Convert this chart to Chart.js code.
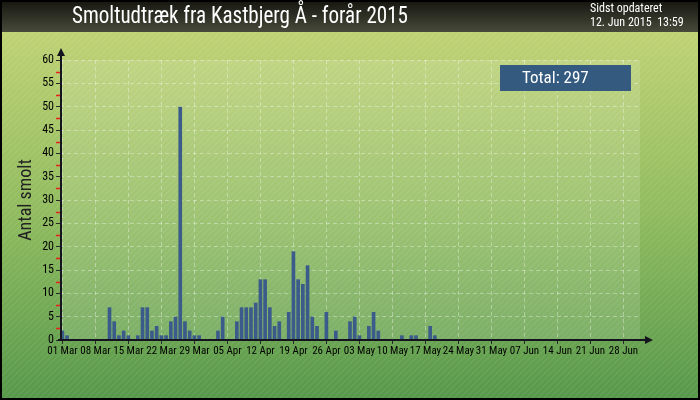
<!DOCTYPE html>
<html>
<head>
<meta charset="utf-8">
<title>Smoltudtræk fra Kastbjerg Å - forår 2015</title>
<script src="https://cdn.jsdelivr.net/npm/chart.js@4/dist/chart.umd.min.js"></script>
<style>
  html, body { margin: 0; padding: 0; background: #000; }
  canvas { display: block; }
</style>
</head>
<body>
<canvas id="smolt" width="700" height="400"></canvas>
<script>
// tekster
const titel = 'Smoltudtræk fra Kastbjerg Å - forår 2015';
const opdateretTekst = 'Sidst opdateret';
const opdateretDato = '12. Jun 2015  13:59';
const aksetitel = 'Antal smolt';
const totalTekst = 'Total: 297';

// en kategori pr. dag, 01 Mar - 01 Jul 2015
const antalDage = 123;
const dage = [];
for (let i = 0; i < antalDage; i++) {
  const d = new Date(2015, 2, 1 + i);
  dage.push(d.getFullYear() + '-' + (d.getMonth() + 1) + '-' + d.getDate());
}

// ugentlige labels paa x-aksen
const ugeLabels = ['01 Mar', '08 Mar', '15 Mar', '22 Mar', '29 Mar', '05 Apr',
  '12 Apr', '19 Apr', '26 Apr', '03 May', '10 May', '17 May', '24 May',
  '31 May', '07 Jun', '14 Jun', '21 Jun', '28 Jun'];

// antal smolt pr. dag (01 Mar - 12 Jun)
const smolt = [
  2, 1, 0, 0, 0, 0, 0, 0, 0, 0,
  7, 4, 1, 2, 1, 0, 1, 7, 7, 2,
  3, 1, 1, 4, 5, 50, 4, 2, 1, 1,
  0, 0, 0, 2, 5, 0, 0, 4, 7, 7,
  7, 8, 13, 13, 7, 3, 4, 0, 6, 19,
  13, 12, 16, 5, 3, 0, 6, 0, 2, 0,
  0, 4, 5, 1, 0, 3, 6, 2, 0, 0,
  0, 0, 1, 0, 1, 1, 0, 0, 3, 1,
  0, 0, 0, 0, 0, 0, 0, 0, 0, 0,
  0, 0, 0, 0, 0, 0, 0, 0, 0, 0,
  0, 0, 0, 0
];

const skrift = "'Roboto Condensed', 'DejaVu Sans Condensed', sans-serif";

// baggrund med skraa striber
function stribeMoenster(ctx) {
  const c = document.createElement('canvas');
  c.width = 6; c.height = 6;
  const p = c.getContext('2d');
  p.strokeStyle = 'rgba(255,255,255,0.07)';
  p.lineWidth = 1.5;
  p.beginPath();
  p.moveTo(0, 6); p.lineTo(6, 0);
  p.moveTo(-3, 3); p.lineTo(3, -3);
  p.moveTo(3, 9); p.lineTo(9, 3);
  p.stroke();
  return ctx.createPattern(c, 'repeat');
}

const pynt = {
  id: 'pynt',
  beforeDraw(chart) {
    const ctx = chart.ctx;
    const a = chart.chartArea;
    const W = chart.width, H = chart.height;
    ctx.save();
    const g = ctx.createLinearGradient(0, 32, 0, H);
    g.addColorStop(0, '#bfd274');
    g.addColorStop(0.5, '#8fbb5e');
    g.addColorStop(1, '#56984a');
    ctx.fillStyle = g;
    ctx.fillRect(0, 0, W, H);
    ctx.fillStyle = stribeMoenster(ctx);
    ctx.fillRect(0, 0, W, H);

    // titelbaand
    const tg = ctx.createLinearGradient(0, 0, 0, 32);
    tg.addColorStop(0, '#15150f');
    tg.addColorStop(1, '#474a3a');
    ctx.fillStyle = tg;
    ctx.fillRect(0, 0, W, 32);

    // plotomraade lidt lysere
    ctx.fillStyle = 'rgba(255,255,255,0.13)';
    ctx.fillRect(a.left, a.top, a.right - a.left, a.bottom - a.top);

    // kant
    ctx.strokeStyle = '#000';
    ctx.lineWidth = 2;
    ctx.strokeRect(1, 1, W - 2, H - 2);

    // tekster i baandet
    ctx.fillStyle = '#fff';
    ctx.textBaseline = 'middle';
    ctx.font = '23px ' + skrift;
    const tw = ctx.measureText(titel).width;
    ctx.save();
    ctx.translate(72, 17);
    ctx.scale(336 / tw, 1);
    ctx.fillText(titel, 0, 0);
    ctx.restore();
    ctx.font = '12px ' + skrift;
    ctx.fillText(opdateretTekst, 590, 9);
    ctx.fillText(opdateretDato, 590, 23);
    ctx.restore();
  },
  afterDraw(chart) {
    const ctx = chart.ctx;
    const a = chart.chartArea;
    const y = chart.scales.y;
    ctx.save();

    // roede mellemstreger
    ctx.strokeStyle = '#e8201a';
    ctx.lineWidth = 1.5;
    for (let v = 2.5; v < 60; v += 5) {
      const py = Math.round(y.getPixelForValue(v)) + 0.5;
      ctx.beginPath();
      ctx.moveTo(a.left - 4, py);
      ctx.lineTo(a.left, py);
      ctx.stroke();
    }

    // akser med pile
    ctx.strokeStyle = '#14141e';
    ctx.fillStyle = '#14141e';
    ctx.lineWidth = 2;
    ctx.beginPath();
    ctx.moveTo(a.left + 1, a.bottom);
    ctx.lineTo(a.left + 1, a.top - 8);
    ctx.moveTo(a.left - 2, a.bottom);
    ctx.lineTo(a.right + 8, a.bottom);
    ctx.stroke();
    ctx.beginPath();
    ctx.moveTo(a.left + 1, a.top - 12);
    ctx.lineTo(a.left - 3, a.top - 4);
    ctx.lineTo(a.left + 5, a.top - 4);
    ctx.closePath();
    ctx.fill();
    ctx.beginPath();
    ctx.moveTo(a.right + 13, a.bottom);
    ctx.lineTo(a.right + 5, a.bottom - 4);
    ctx.lineTo(a.right + 5, a.bottom + 4);
    ctx.closePath();
    ctx.fill();

    // total-boks
    ctx.fillStyle = '#345a80';
    ctx.fillRect(500, 65, 131, 26);
    ctx.fillStyle = '#fff';
    ctx.font = '17px ' + skrift;
    ctx.textBaseline = 'middle';
    ctx.fillText(totalTekst, 522, 78.5);
    ctx.restore();
  }
};

new Chart(document.getElementById('smolt'), {
  type: 'bar',
  data: {
    labels: dage,
    datasets: [{
      data: smolt,
      backgroundColor: '#3b5c8a',
      barPercentage: 0.78,
      categoryPercentage: 1
    }]
  },
  options: {
    responsive: false,
    animation: false,
    layout: { padding: { left: 0, right: 60, top: 60, bottom: 0 } },
    plugins: {
      legend: { display: false },
      tooltip: { enabled: false }
    },
    scales: {
      x: {
        offset: true,
        afterFit: function (s) { s.height = 60; },
        border: { display: false, dash: [4, 3] },
        grid: {
          offset: false,
          color: 'rgba(255,255,255,0.35)',
          tickColor: '#2a2a2a',
          tickLength: 4,
          tickBorderDash: []
        },
        ticks: {
          autoSkip: false,
          maxRotation: 0,
          padding: 1,
          color: '#000',
          font: { family: skrift, size: 11 },
          callback: function (v, i) { return i % 7 === 0 ? ugeLabels[i / 7] : null; }
        }
      },
      y: {
        min: 0,
        max: 60,
        afterFit: function (s) { s.width = 60; },
        border: { display: false, dash: [4, 3] },
        grid: {
          color: 'rgba(255,255,255,0.35)',
          tickColor: '#2a2a2a',
          tickLength: 4,
          tickBorderDash: []
        },
        ticks: {
          stepSize: 5,
          padding: 2,
          color: '#000',
          font: { family: skrift, size: 12 }
        },
        title: {
          display: true,
          text: aksetitel,
          color: '#222',
          font: { family: skrift, size: 18 },
          padding: { top: 16, bottom: 0 }
        }
      }
    }
  },
  plugins: [pynt]
});
</script>
</body>
</html>
